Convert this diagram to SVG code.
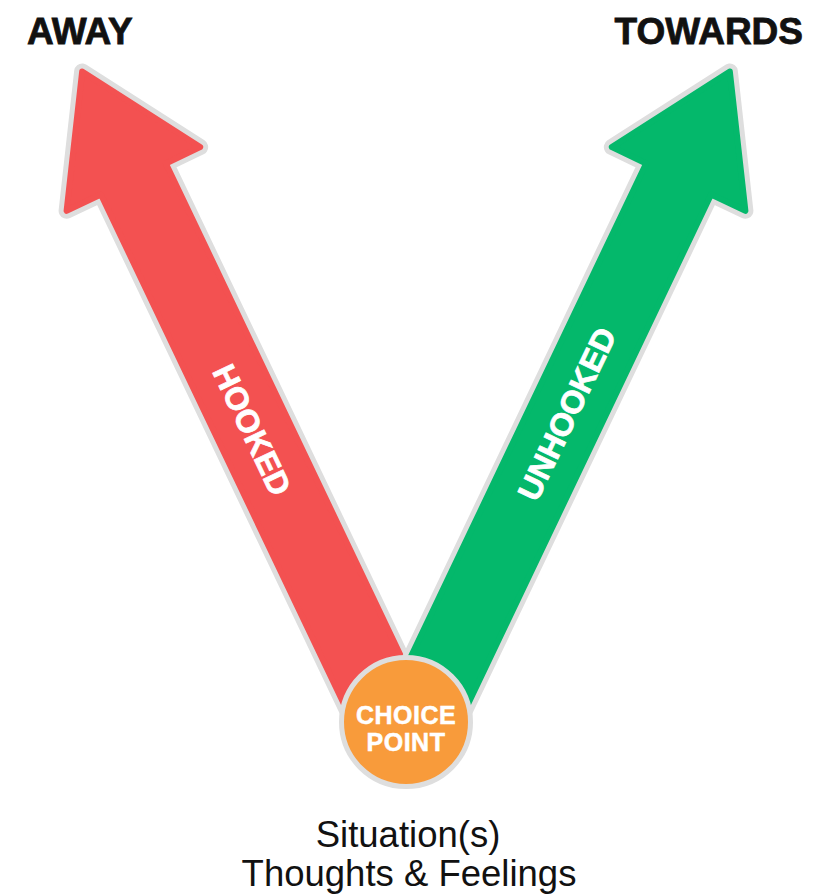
<svg xmlns="http://www.w3.org/2000/svg" width="830" height="896" viewBox="0 0 830 896">
  <style>
    .title { font-family: "Liberation Sans", Arial, sans-serif; font-weight: bold; font-size: 37px; fill: #111111; stroke: #111111; stroke-width: 0.8px; }
    .outline { fill: #dedede; stroke: #dedede; stroke-width: 16; stroke-linejoin: round; }
    .red { fill: #f35151; stroke: #f35151; stroke-width: 6; stroke-linejoin: round; }
    .green { fill: #04b86b; stroke: #04b86b; stroke-width: 6; stroke-linejoin: round; }
    .arrowlabel { font-family: "Liberation Sans", Arial, sans-serif; font-weight: bold; font-size: 32px; fill: #ffffff; stroke: #ffffff; stroke-width: 0.8px; text-anchor: middle; }
    .cp { font-family: "Liberation Sans", Arial, sans-serif; font-weight: bold; font-size: 25px; fill: #ffffff; stroke: #ffffff; stroke-width: 0.5px; text-anchor: middle; letter-spacing: 0.5px; }
    .sub { font-family: "Liberation Sans", Arial, sans-serif; font-size: 36.5px; fill: #111111; text-anchor: middle; }
  </style>
  <defs>
    <path id="arrowShape" d="M0,5 L74,124 L36,124 L36,730 L-36,730 L-36,124 L-74,124 Z"/>
  </defs>
  <rect width="830" height="896" fill="#ffffff"/>

  <g id="connectors">
    <g id="arrow-away" transform="translate(80,67) rotate(-25.5)">
      <use href="#arrowShape" class="outline"/>
      <use href="#arrowShape" class="red"/>
    </g>
    <g id="arrow-towards" transform="translate(812,0) scale(-1,1) translate(80,67) rotate(-25.5)">
      <use href="#arrowShape" class="outline"/>
      <use href="#arrowShape" class="green"/>
    </g>
    <text class="arrowlabel" transform="translate(252,430) rotate(64.5)" y="11">HOOKED</text>
    <text class="arrowlabel" transform="translate(567,414) rotate(-64.5)" y="11">UNHOOKED</text>
  </g>

  <g id="node-away">
    <text class="title" x="27" y="44">AWAY</text>
  </g>
  <g id="node-towards">
    <text class="title" x="803" y="44" text-anchor="end">TOWARDS</text>
  </g>

  <g id="node-choice-point">
    <circle cx="406" cy="722" r="64.5" fill="#f89b3b" stroke="#dedede" stroke-width="5"/>
    <text class="cp" x="406" y="724">CHOICE</text>
    <text class="cp" x="406" y="751">POINT</text>
  </g>

  <g id="node-situation">
    <text class="sub" x="408" y="847">Situation(s)</text>
    <text class="sub" x="409" y="886">Thoughts &amp; Feelings</text>
  </g>
</svg>
